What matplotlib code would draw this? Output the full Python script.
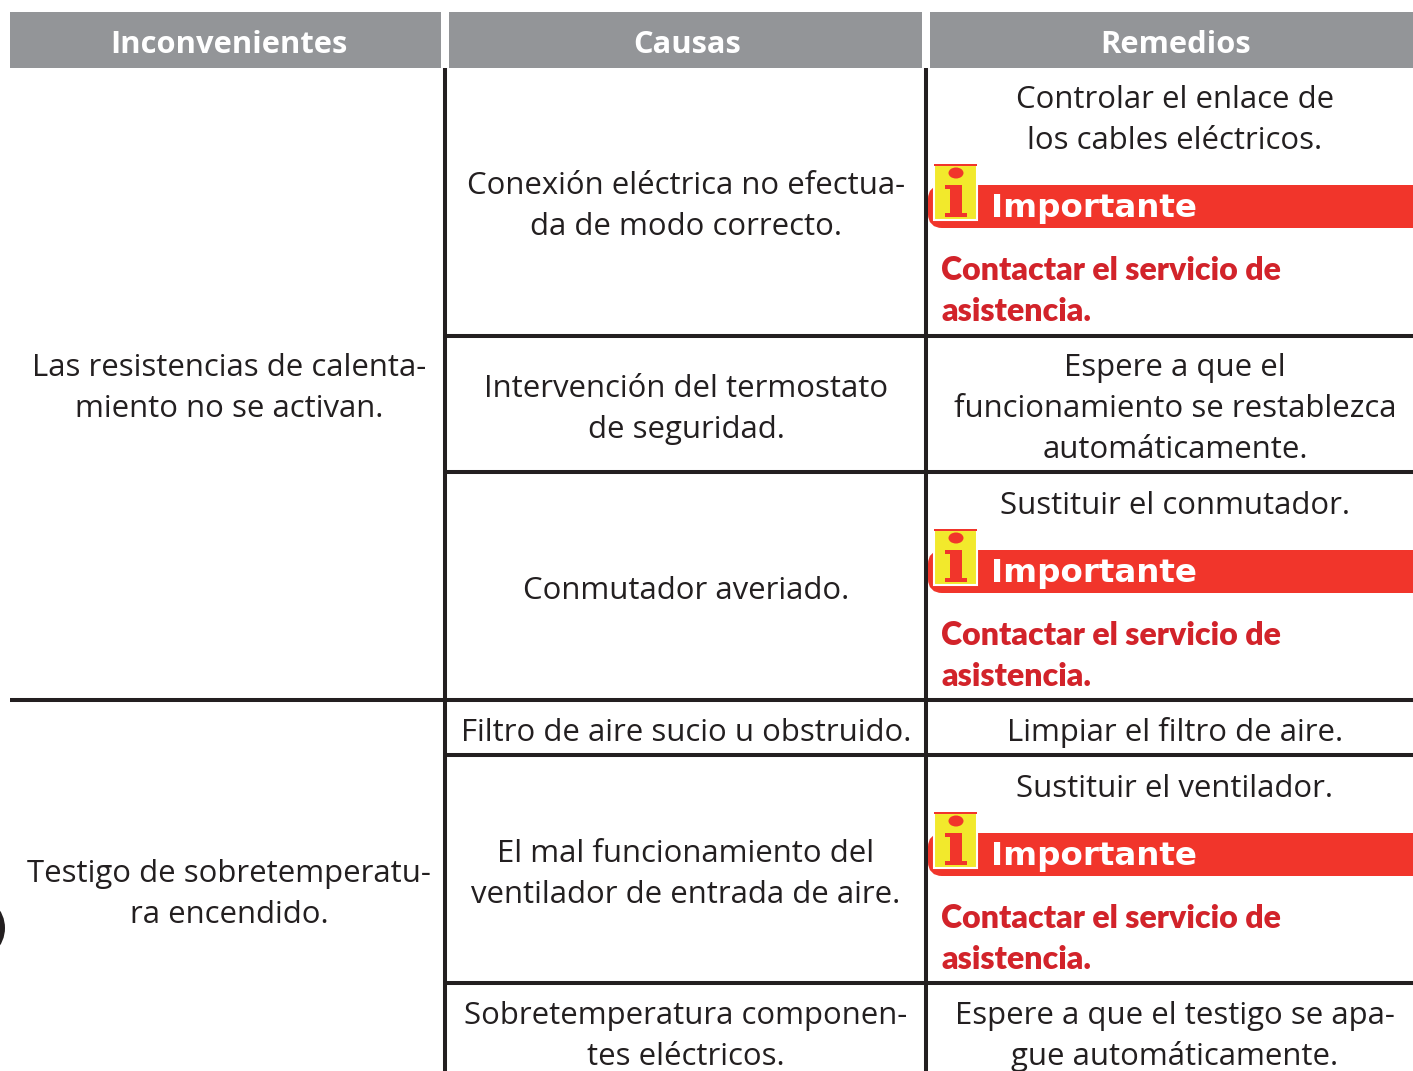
import matplotlib
matplotlib.use('Agg')
import matplotlib.pyplot as plt
from matplotlib.patches import Rectangle, FancyBboxPatch, Ellipse

plt.rcParams['font.family'] = ['Open Sans', 'DejaVu Sans']

headers = ['Inconvenientes', 'Causas', 'Remedios']
problems = ['Las resistencias de calenta-\nmiento no se activan.',
            'Testigo de sobretemperatu-\nra encendido.']
causes = ['Conexión eléctrica no efectua-\nda de modo correcto.',
          'Intervención del termostato\nde seguridad.',
          'Conmutador averiado.',
          'Filtro de aire sucio u obstruido.',
          'El mal funcionamiento del\nventilador de entrada de aire.',
          'Sobretemperatura componen-\ntes eléctricos.']
remedies = ['Controlar el enlace de\nlos cables eléctricos.',
            'Espere a que el\nfuncionamiento se restablezca\nautomáticamente.',
            'Sustituir el conmutador.',
            'Limpiar el filtro de aire.',
            'Sustituir el ventilador.',
            'Espere a que el testigo se apa-\ngue automáticamente.']
notice_title = 'Importante'
notice_text = 'Contactar el servicio de\nasistencia.'

GREY = '#939598'
DARK = '#231f20'
RED = '#f1352b'
BODY = 22.4
LINE = 41


def draw_text(ax, x, y, s, **kw):
    # y is the baseline of the first line, in pixels
    for i, line in enumerate(s.split('\n')):
        ax.text(x, y + i * LINE, line, va='baseline', **kw)


def draw_notice(ax, y):
    # y is the top of the red band
    ax.add_patch(FancyBboxPatch((935, y + 7), 500, 29, boxstyle='round,pad=0,rounding_size=7',
                                fc=RED, ec=RED, lw=14 / 1.39, zorder=2))
    ax.add_patch(Rectangle((934, y - 20), 43, 55, fc='#f2e92c', ec='white', lw=1.5, zorder=3))
    ax.add_patch(Rectangle((934, y - 21), 43, 1.5, fc=RED, ec='none', zorder=4))
    ax.add_patch(Ellipse((956, y - 12), 15, 11, fc=RED, ec='none', zorder=4))
    ax.add_patch(Rectangle((950, y), 12, 32, fc=RED, ec='none', zorder=4))
    ax.add_patch(Rectangle((945, y), 8, 4, fc=RED, ec='none', zorder=4))
    ax.add_patch(Rectangle((945, y + 28), 22, 4, fc=RED, ec='none', zorder=4))
    ax.text(991, y + 32, notice_title, color='white', fontsize=23.4, fontweight='bold',
            family=['DejaVu Sans'], va='baseline', zorder=5)
    draw_text(ax, 941, y + 95, notice_text, color='#d2232a', fontsize=23.1, fontweight='heavy',
              ha='left', family=['Lato', 'DejaVu Sans'])


fig = plt.figure(figsize=(14.13, 10.71), dpi=100)
ax = fig.add_axes([0, 0, 1, 1])
ax.set_xlim(0, 1413)
ax.set_ylim(1071, 0)
ax.axis('off')

# header bands
for (x0, x1), cx, name in zip([(10, 441), (449, 922), (930, 1413)], [229, 687, 1176], headers):
    ax.add_patch(Rectangle((x0, 12), x1 - x0, 56, fc=GREY, ec='none'))
    ax.text(cx, 53, name, color='white', fontsize=22.2, fontweight='bold', ha='center', va='baseline')

# grid lines
for x in [445, 926]:
    ax.plot([x, x], [68, 1071], color=DARK, lw=2.9, solid_capstyle='butt')
for y in [336, 472, 755, 983]:
    ax.plot([445, 1413], [y, y], color=DARK, lw=2.9, solid_capstyle='butt')
ax.plot([10, 1413], [700, 700], color=DARK, lw=2.9, solid_capstyle='butt')

# cut-off tab at the left edge
ax.add_patch(Ellipse((-28, 928), 66, 66, fc=DARK, ec='none'))

txt = dict(color=DARK, fontsize=BODY, ha='center')
draw_text(ax, 229, 376, problems[0], **txt)
draw_text(ax, 229, 882, problems[1], **txt)

for y, s in zip([194, 397, 599, 741, 862, 1024], causes):
    draw_text(ax, 686, y, s, **txt)

for y, s in zip([108, 376, 514, 741, 797, 1024], remedies):
    draw_text(ax, 1175, y, s, **txt)

for y in [185, 550, 833]:
    draw_notice(ax, y)

fig.savefig('out.png', dpi=100)
